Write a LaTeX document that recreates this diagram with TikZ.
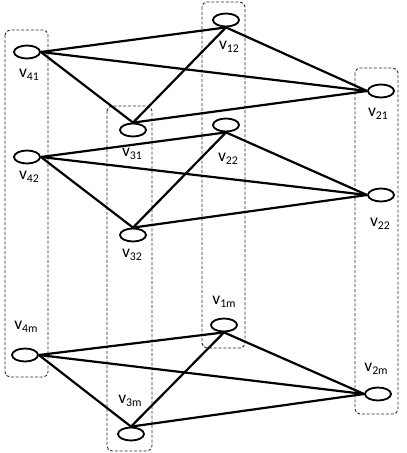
\documentclass[tikz,border=0pt]{standalone}
\usepackage{fontspec}
\setmainfont{Carlito}
\usepackage{xcolor}
\usepackage{tikz}
\usetikzlibrary{positioning,shapes.geometric}
\definecolor{GroupGrey}{HTML}{2E2E2E}
\newcommand{\vsub}[1]{{\fontsize{17.5}{17.5}\selectfont v}{\fontsize{11.8}{11.8}\selectfont\raisebox{-2.5pt}{#1}}}

\begin{document}
\begin{tikzpicture}[x=1pt,y=-1pt,
 vtx/.style={draw,ellipse,line width=1.8pt,minimum width=26pt,minimum height=13pt,inner sep=0pt,fill=white},
 link/.style={line width=2.2pt},
 grp/.style={draw=GroupGrey,dash pattern=on 3pt off 1.8pt,line width=0.9pt,rounded corners=5pt},
 lbl/.style={inner sep=0pt}]
\useasboundingbox (0,0) rectangle (407,453);
% dashed column boxes
\draw[grp] (5,30) rectangle (48,377);
\draw[grp] (107,106) rectangle (152,451);
\draw[grp] (202,2) rectangle (245,348);
\draw[grp] (355,68) rectangle (398,414);
% vertices
\coordinate (p41) at (27,52);
\coordinate (p31) at (133,130);
\coordinate (p12) at (226,20);
\coordinate (p21) at (381,91);
\coordinate (p42) at (27,157);
\coordinate (p32) at (133,235);
\coordinate (p1b) at (226,125);
\coordinate (p22) at (381,195);
\coordinate (p4m) at (25,355);
\coordinate (p3m) at (131,434);
\coordinate (p1m) at (224,325);
\coordinate (p2m) at (378,394);
\node[vtx] (v41) at (p41) {};
\node[vtx] (v31) at (p31) {};
\node[vtx] (v12) at (p12) {};
\node[vtx] (v21) at (p21) {};
\node[vtx] (v42) at (p42) {};
\node[vtx] (v32) at (p32) {};
\node[vtx] (v1b) at (p1b) {};
\node[vtx] (v22) at (p22) {};
\node[vtx] (v4m) at (p4m) {};
\node[vtx] (v3m) at (p3m) {};
\node[vtx] (v1m) at (p1m) {};
\node[vtx] (v2m) at (p2m) {};
% labels
\node[lbl] (l41) at (29,75) {\vsub{41}};
\node[lbl] (l31) at (132,154) {\vsub{31}};
\node[lbl] (l12) at (229,47) {\vsub{12}};
\node[lbl] (l21) at (378,114) {\vsub{21}};
\node[lbl] (l42) at (29,177) {\vsub{42}};
\node[lbl] (l32) at (132,255) {\vsub{32}};
\node[lbl] (l1b) at (228,159) {\vsub{22}};
\node[lbl] (l22) at (380,224) {\vsub{22}};
\node[lbl] (l4m) at (26,327) {\vsub{4m}};
\node[lbl] (l3m) at (130,401) {\vsub{3m}};
\node[lbl] (l1m) at (224,302) {\vsub{1m}};
\node[lbl] (l2m) at (376,369) {\vsub{2m}};
% first group
\draw[link] (v41.east) -- (v12.south);
\draw[link] (v41.east) -- (v21.west);
\draw[link] (v41.east) -- (v31.north);
\draw[link] (v31.north) -- (v12.south);
\draw[link] (v31.north) -- (v21.west);
\draw[link] (v12.south) -- (v21.west);
% second group
\draw[link] (v42.east) -- (v1b.south);
\draw[link] (v42.east) -- (v22.west);
\draw[link] (v42.east) -- (v32.north);
\draw[link] (v32.north) -- (v1b.south);
\draw[link] (v32.north) -- (v22.west);
\draw[link] (v1b.south) -- (v22.west);
% last group
\draw[link] (v4m.east) -- (v1m.south);
\draw[link] (v4m.east) -- (v2m.west);
\draw[link] (v4m.east) -- (v3m.north);
\draw[link] (v3m.north) -- (v1m.south);
\draw[link] (v3m.north) -- (v2m.west);
\draw[link] (v1m.south) -- (v2m.west);
\end{tikzpicture}
\end{document}
